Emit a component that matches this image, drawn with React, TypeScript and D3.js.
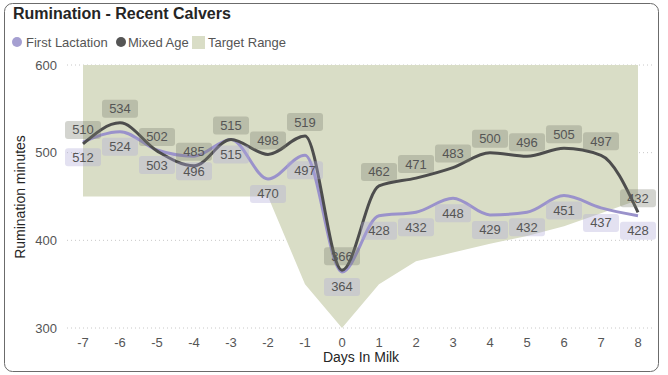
import React from "react";
import * as d3 from "d3";

const days = [-7, -6, -5, -4, -3, -2, -1, 0, 1, 2, 3, 4, 5, 6, 7, 8];
const firstLactation = [512, 524, 503, 496, 515, 470, 497, 364, 428, 432, 448, 429, 432, 451, 437, 428];
const mixedAge = [510, 534, 502, 485, 515, 498, 519, 366, 462, 471, 483, 500, 496, 505, 497, 432];
const targetUpper = [600, 600, 600, 600, 600, 600, 600, 600, 600, 600, 600, 600, 600, 600, 600, 600];
const targetLower = [450, 450, 450, 450, 450, 450, 350, 300, 350, 376, 386, 396, 405, 416, 431, 446];
const yTicks = [300, 400, 500, 600];

const W = 668;
const H = 375;
const FONT = "'Liberation Sans', Arial, sans-serif";

export default function App() {
  const x = d3.scaleLinear().domain([-7, 8]).range([83, 638]);
  const y = d3.scaleLinear().domain([300, 600]).range([328, 65]);

  const area = d3
    .area<number>()
    .x((_, i) => x(days[i]))
    .y0((_, i) => y(targetLower[i]))
    .y1((_, i) => y(targetUpper[i]));

  const line = d3
    .line<number>()
    .x((_, i) => x(days[i]))
    .y((d) => y(d))
    .curve(d3.curveMonotoneX);

  const labelW = 36;
  const labelH = 18;

  return (
    <svg
      width={W}
      height={H}
      style={{ position: "absolute", left: 0, top: 0 }}
      fontFamily={FONT}
    >
      <rect x={0} y={0} width={W} height={H} fill="#fff" />
      <rect x={4.5} y={3.5} width={654} height={368} rx={8} fill="#fff" stroke="#6b6b6b" strokeWidth={1} />
      <text x={13} y={19} fontSize={16} fontWeight="bold" fill="#252525">
        Rumination - Recent Calvers
      </text>

      {/* legend */}
      <circle cx={17} cy={42} r={5} fill="#a59fd1" />
      <text x={26} y={46.5} fontSize={13} fill="#555">First Lactation</text>
      <circle cx={121} cy={42} r={5} fill="#555" />
      <text x={128} y={46.5} fontSize={13} fill="#555">Mixed Age</text>
      <rect x={192} y={36} width={13} height={13} fill="#d9ddc6" />
      <text x={208} y={46.5} fontSize={13} fill="#555">Target Range</text>

      {/* grid */}
      {yTicks.map((t) => (
        <g key={t}>
          <line x1={67} x2={652} y1={y(t)} y2={y(t)} stroke="#c8c8c8" strokeDasharray="1,3" />
          <text x={57} y={y(t) + 4.5} fontSize={13} fill="#555" textAnchor="end">
            {t}
          </text>
        </g>
      ))}

      {/* target range */}
      <path d={area(days) || ""} fill="#d9ddc6" />

      {/* lines */}
      <path d={line(firstLactation) || ""} fill="none" stroke="#9a92cb" strokeWidth={3} />
      <path d={line(mixedAge) || ""} fill="none" stroke="#4d4d4d" strokeWidth={3} />

      {/* labels */}
      {mixedAge.map((v, i) => (
        <g key={"m" + i}>
          <rect
            x={x(days[i]) - labelW / 2}
            y={y(v) - 14 - labelH / 2}
            width={labelW}
            height={labelH}
            rx={3}
            fill="rgba(120,124,110,0.33)"
          />
          <text x={x(days[i])} y={y(v) - 14 + 4.5} fontSize={13} fill="#555" textAnchor="middle">
            {v}
          </text>
        </g>
      ))}
      {firstLactation.map((v, i) => (
        <g key={"f" + i}>
          <rect
            x={x(days[i]) - labelW / 2}
            y={y(v) + 15 - labelH / 2}
            width={labelW}
            height={labelH}
            rx={3}
            fill="rgba(175,170,215,0.35)"
          />
          <text x={x(days[i])} y={y(v) + 15 + 4.5} fontSize={13} fill="#555" textAnchor="middle">
            {v}
          </text>
        </g>
      ))}

      {/* x ticks */}
      {days.map((d) => (
        <text key={d} x={x(d)} y={347} fontSize={13} fill="#555" textAnchor="middle">
          {d}
        </text>
      ))}
      <text x={361} y={362} fontSize={14} fill="#252525" textAnchor="middle">
        Days In Milk
      </text>
      <text
        transform={`translate(25,197) rotate(-90)`}
        fontSize={14}
        fill="#252525"
        textAnchor="middle"
      >
        Rumination minutes
      </text>
    </svg>
  );
}
